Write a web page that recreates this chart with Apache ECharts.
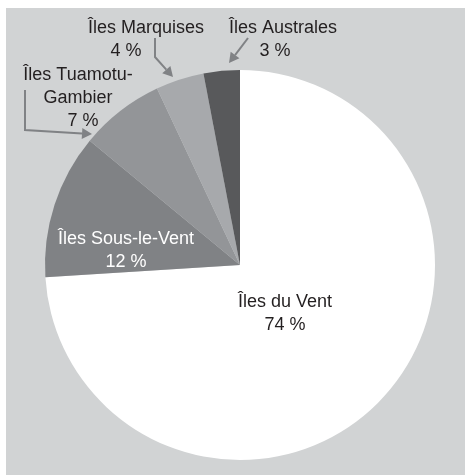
<!DOCTYPE html>
<html>
<head>
<meta charset="utf-8">
<script src="https://cdn.jsdelivr.net/npm/echarts@6/dist/echarts.min.js"></script>
<style>html,body{margin:0;padding:0;background:#fff}#c{width:465px;height:475px}</style>
</head>
<body>
<div id="c"></div>
<script>
const categories = ['Îles du Vent', 'Îles Sous-le-Vent', 'Îles Tuamotu-\nGambier', 'Îles Marquises', 'Îles Australes'];
const values = [74, 12, 7, 4, 3];
const sliceColors = ['#ffffff', '#808285', '#939598', '#a7a9ac', '#58595b'];

const chart = echarts.init(document.getElementById('c'));
const FONT = 'Liberation Sans, Arial, sans-serif';
const arrowColor = '#808285';

function arrow(points) {
  const n = points.length;
  const tip = points[n - 1], prev = points[n - 2];
  const dx = tip[0] - prev[0], dy = tip[1] - prev[1];
  const L = Math.hypot(dx, dy), ux = dx / L, uy = dy / L;
  const hl = 10, hw = 5.5;
  const bx = tip[0] - ux * hl, by = tip[1] - uy * hl;
  const line = points.slice(0, n - 1).concat([[bx, by]]);
  return [
    { type: 'polyline', shape: { points: line }, style: { stroke: arrowColor, lineWidth: 2, fill: null }, z: 10 },
    { type: 'polygon', shape: { points: [tip, [bx - uy * hw, by + ux * hw], [bx + uy * hw, by - ux * hw]] }, style: { fill: arrowColor }, z: 10 }
  ];
}

// label placements (annotation positions)
const labelPos = {
  0: { x: 285, y: 314 },
  1: { x: 126, y: 251 },
  2: { x: 78, y: 98 },
  3: { x: 146, y: 40 },
  4: { x: 283, y: 40 }
};
// horizontal nudge of the value line [left, right] padding
const valuePad = { 0: [0, 0], 1: [0, 0], 2: [10, 0], 3: [0, 40], 4: [0, 16] };

const data = categories.map((c, i) => ({
  name: c, value: values[i],
  itemStyle: { color: sliceColors[i] },
  label: {
    position: i < 2 ? 'inside' : 'outside',
    color: i === 1 ? '#ffffff' : '#231f20',
    rich: {
      n: { fontFamily: FONT, fontSize: 18, lineHeight: 23, color: i === 1 ? '#ffffff' : '#231f20' },
      v: { fontFamily: FONT, fontSize: 18, lineHeight: 23, color: i === 1 ? '#ffffff' : '#231f20',
           padding: [0, valuePad[i][1], 0, valuePad[i][0]] }
    }
  }
}));

chart.setOption({
  animation: false,
  graphic: [
    { type: 'rect', shape: { x: 6, y: 8, width: 470, height: 480 }, style: { fill: '#d1d3d4' }, z: -10 }
  ].concat(
    arrow([[248, 38], [229, 63]]),
    arrow([[155, 38], [155, 57], [173, 77]]),
    arrow([[25, 90], [25, 130], [92, 134]])
  ),
  series: [{
    type: 'pie',
    center: [240, 265],
    radius: 195,
    startAngle: 90,
    clockwise: true,
    data: data,
    itemStyle: { borderWidth: 0 },
    labelLine: { show: false },
    label: {
      fontFamily: FONT,
      fontSize: 18,
      lineHeight: 23,
      overflow: 'none',
      align: 'center',
      formatter: p => p.name.split('\n').map(s => '{n|' + s + '}').join('\n') + '\n{v|' + p.value + ' %}'
    },
    labelLayout: function (params) {
      const p = labelPos[params.dataIndex];
      return { x: p.x, y: p.y, align: 'center', verticalAlign: 'middle' };
    },
    emphasis: { disabled: true }
  }]
});
</script>
</body>
</html>
